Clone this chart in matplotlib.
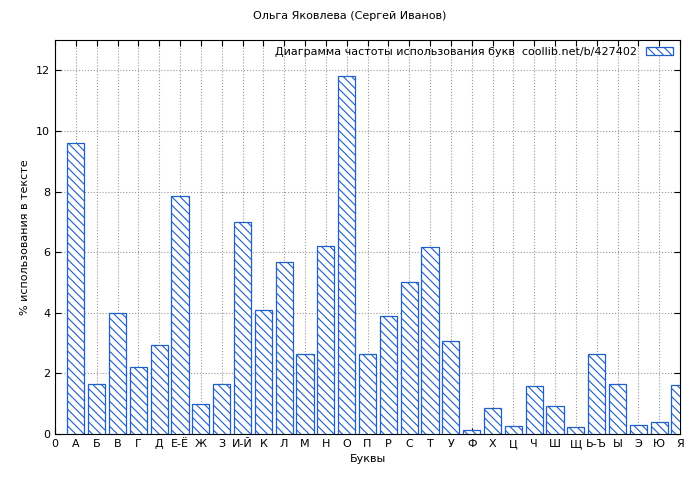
import matplotlib
matplotlib.use("Agg")
import matplotlib.pyplot as plt

plt.rcParams["hatch.color"] = "#1f5fc8"
plt.rcParams["hatch.linewidth"] = 0.8

tick_labels = ["0", "А", "Б", "В", "Г", "Д", "Е-Ё", "Ж", "З", "И-Й", "К", "Л", "М", "Н",
               "О", "П", "Р", "С", "Т", "У", "Ф", "Х", "Ц", "Ч", "Ш", "Щ", "Ь-Ъ",
               "Ы", "Э", "Ю", "Я"]
letters = tick_labels[1:]
values = [9.6, 1.65, 4.0, 2.2, 2.95, 7.85, 0.98, 1.65, 7.0, 4.1, 5.68, 2.65, 6.2,
          11.8, 2.65, 3.9, 5.02, 6.18, 3.08, 0.12, 0.85, 0.25, 1.57, 0.92, 0.22,
          2.65, 1.65, 0.3, 0.4, 1.62]

fig = plt.figure(figsize=(7, 4.8), dpi=100)
ax = fig.add_axes([55 / 700, 46 / 480, 625 / 700, 394 / 480])

positions = list(range(1, len(letters) + 1))
ax.bar(positions, values, width=0.82, facecolor="white", edgecolor="#1f5fc8",
       linewidth=0.9, hatch="\\\\\\\\",
       label="Диаграмма частоты использования букв  coollib.net/b/427402", zorder=3)

ax.set_xlim(0, 30)
ax.set_ylim(0, 13)
ax.set_xticks(range(len(tick_labels)))
ax.set_xticklabels(tick_labels, fontsize=8)
ax.set_yticks(range(0, 13, 2))
ax.tick_params(axis="y", labelsize=8)
ax.tick_params(direction="in", top=True, right=True, length=4)
ax.grid(True, linestyle=":", color="#999999", linewidth=0.8, zorder=0)

ax.set_xlabel("Буквы", fontsize=8)
ax.set_ylabel("% использования в тексте", fontsize=8)
fig.text(0.5, 0.96, "Ольга Яковлева (Сергей Иванов)", ha="center", fontsize=8)

leg = ax.legend(loc="upper right", fontsize=8, frameon=False, markerfirst=False,
                handlelength=2.5, handleheight=0.8, borderaxespad=0.2)

fig.savefig("out.png", dpi=100)
